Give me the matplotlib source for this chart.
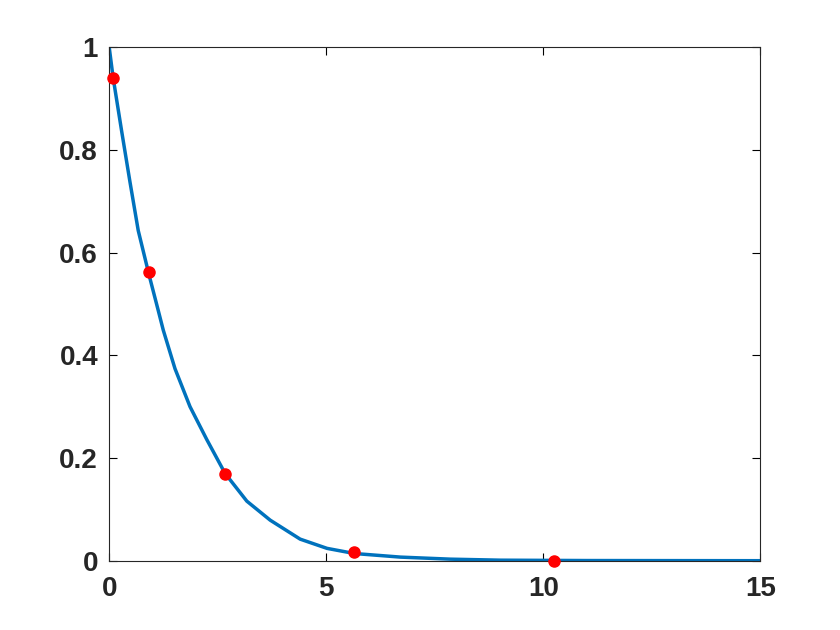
import matplotlib
matplotlib.use('Agg')
import matplotlib.pyplot as plt

# curve values
curve_x = [0, 0.09, 0.286, 0.478, 0.669, 0.92, 1.131, 1.246, 1.516, 1.862, 2.248, 2.67,
           3.171, 3.709, 4.40, 5.02, 5.65, 6.71, 7.86, 9.02, 11, 15]
curve_y = [1.0, 0.941, 0.837, 0.738, 0.643, 0.556, 0.487, 0.449, 0.374, 0.300, 0.236, 0.170,
           0.116, 0.079, 0.042, 0.024, 0.014, 0.007, 0.003, 0.001, 0.0003, 0.0]

# sampled points (red dots)
pts_x = [0.09, 0.92, 2.67, 5.65, 10.25]
pts_y = [0.941, 0.563, 0.168, 0.016, 0.0]

xticks = [0, 5, 10, 15]
yticks = [0, 0.2, 0.4, 0.6, 0.8, 1]
ytick_labels = ['0', '0.2', '0.4', '0.6', '0.8', '1']

plt.rcParams['font.family'] = ['Liberation Sans', 'DejaVu Sans']

fig = plt.figure(figsize=(8.4, 6.3), dpi=100)
ax = fig.add_axes([0.13, 0.11, 0.775, 0.815])

ax.plot(curve_x, curve_y, color='#0072BD', linewidth=2.5, solid_joinstyle='round', zorder=2)
ax.plot(pts_x, pts_y, 'o', color='#FF0000', markersize=8, zorder=3, clip_on=False)

ax.set_xlim(0, 15)
ax.set_ylim(0, 1)
ax.set_xticks(xticks)
ax.set_yticks(yticks)
ax.set_yticklabels(ytick_labels)

ax.tick_params(direction='in', top=True, right=True, length=6, width=0.8,
               labelsize=20, labelcolor='#262626')
ax.tick_params(axis='x', pad=11)
ax.tick_params(axis='y', pad=8)
for lbl in ax.get_xticklabels() + ax.get_yticklabels():
    lbl.set_fontweight('bold')
for sp in ax.spines.values():
    sp.set_color('#262626')
    sp.set_linewidth(0.8)

fig.savefig('out.png', dpi=100)
